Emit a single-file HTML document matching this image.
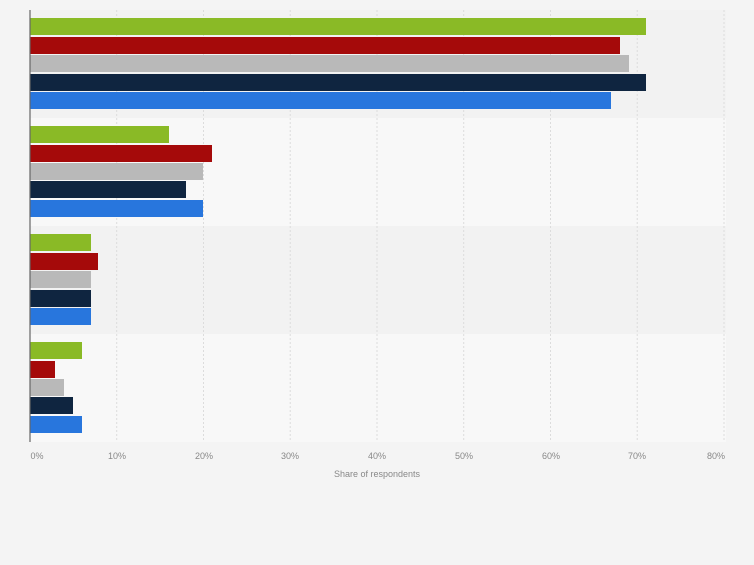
<!DOCTYPE html><html><head><style>body{margin:0;background:#f4f4f4}</style></head><body>
<svg width="754" height="560" xmlns="http://www.w3.org/2000/svg" font-family="Liberation Sans, sans-serif">
<rect width="754" height="560" fill="#f4f4f4"/>
<rect x="30" y="10" width="696" height="108" fill="#f2f2f2"/>
<rect x="30" y="118" width="696" height="108" fill="#f8f8f8"/>
<rect x="30" y="226" width="696" height="108" fill="#f2f2f2"/>
<rect x="30" y="334" width="696" height="108" fill="#f8f8f8"/>
<g stroke="#dcdcdc" stroke-dasharray="2,2">
<line x1="116.7" y1="10" x2="116.7" y2="442"/><line x1="203.5" y1="10" x2="203.5" y2="442"/><line x1="290.2" y1="10" x2="290.2" y2="442"/><line x1="377" y1="10" x2="377" y2="442"/><line x1="463.7" y1="10" x2="463.7" y2="442"/><line x1="550.5" y1="10" x2="550.5" y2="442"/><line x1="637.2" y1="10" x2="637.2" y2="442"/><line x1="724" y1="10" x2="724" y2="442"/>
</g>
<g font-size="9" fill="#888" text-anchor="middle">
<text x="37" y="459">0%</text><text x="117" y="459">10%</text><text x="204" y="459">20%</text><text x="290" y="459">30%</text><text x="377" y="459">40%</text><text x="464" y="459">50%</text><text x="551" y="459">60%</text><text x="637" y="459">70%</text><text x="716" y="459">80%</text>
<text x="377" y="477">Share of respondents</text>
</g>
<g>
<rect x="30" y="18" width="616" height="17" fill="#8aba26"/>
<rect x="30" y="37" width="590" height="17" fill="#a50a0a"/>
<rect x="30" y="55" width="599" height="17" fill="#b9b9b9"/>
<rect x="30" y="74" width="616" height="17" fill="#0f2540"/>
<rect x="30" y="92" width="581" height="17" fill="#2876dd"/>
<rect x="30" y="126" width="139" height="17" fill="#8aba26"/>
<rect x="30" y="145" width="182" height="17" fill="#a50a0a"/>
<rect x="30" y="163" width="173" height="17" fill="#b9b9b9"/>
<rect x="30" y="181" width="156" height="17" fill="#0f2540"/>
<rect x="30" y="200" width="173" height="17" fill="#2876dd"/>
<rect x="30" y="234" width="61" height="17" fill="#8aba26"/>
<rect x="30" y="253" width="68" height="17" fill="#a50a0a"/>
<rect x="30" y="271" width="61" height="17" fill="#b9b9b9"/>
<rect x="30" y="290" width="61" height="17" fill="#0f2540"/>
<rect x="30" y="308" width="61" height="17" fill="#2876dd"/>
<rect x="30" y="342" width="52" height="17" fill="#8aba26"/>
<rect x="30" y="361" width="25" height="17" fill="#a50a0a"/>
<rect x="30" y="379" width="34" height="17" fill="#b9b9b9"/>
<rect x="30" y="397" width="43" height="17" fill="#0f2540"/>
<rect x="30" y="416" width="52" height="17" fill="#2876dd"/>
</g>
<line x1="30" y1="10" x2="30" y2="442" stroke="#666" stroke-width="1.2"/>
</svg></body></html>
